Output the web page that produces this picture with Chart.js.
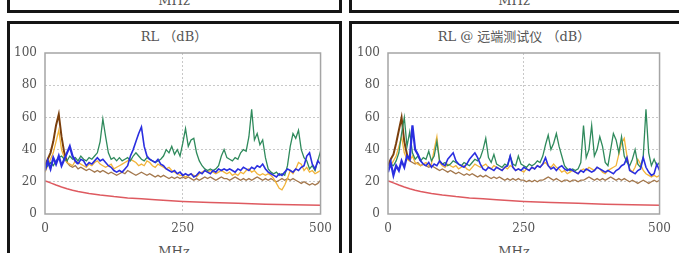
<!DOCTYPE html>
<html>
<head>
<meta charset="utf-8">
<script src="https://cdn.jsdelivr.net/npm/chart.js@4/dist/chart.umd.min.js"></script>
<style>
  body { margin: 0; width: 679px; height: 253px; overflow: hidden; background: #fff; position: relative;
         font-family: "DejaVu Serif", "Noto Sans CJK SC", serif; color: #555; }
  .box { position: absolute; border: 3px solid #151515; box-sizing: border-box; }
  .txt { position: absolute; font-size: 13px; white-space: nowrap; transform: translateX(-50%); line-height: 1; }
  canvas { position: absolute; }
</style>
</head>
<body>
<div class="box" style="left:7px;top:-60px;width:335px;height:73px"></div>
<div class="box" style="left:349px;top:-60px;width:340px;height:73px"></div>
<div class="txt" style="left:174px;top:-6px">MHz</div>
<div class="txt" style="left:514px;top:-6px">MHz</div>

<div class="box" style="left:7px;top:21px;width:335px;height:260px"></div>
<div class="box" style="left:349px;top:21px;width:340px;height:260px"></div>
<div class="txt" style="left:174px;top:30px">RL （dB）</div>
<div class="txt" style="left:514px;top:30px">RL @ 远端测试仪 （dB）</div>
<div class="txt" style="left:174px;top:245px">MHz</div>
<div class="txt" style="left:514px;top:245px">MHz</div>

<canvas id="left" width="332" height="240" style="left:8px;top:22px"></canvas>
<canvas id="right" width="330" height="240" style="left:349px;top:22px"></canvas>

<script>
// frequency points of the measured curves, 0..500 MHz every 5 MHz
const freq = Array.from({length: 101}, (_, i) => i * 5);

// limit line (same on both panels)
const limitFreq = [0, 5, 10, 20, 30, 40, 50, 60, 80, 100, 125, 150, 175, 200, 250, 300, 350, 400, 450, 500];
const limitRL   = [20.5, 20, 19.3, 18, 16.8, 15.7, 14.8, 14, 12.8, 11.8, 10.8, 10, 9.4, 8.8, 7.8, 7.1, 6.6, 6.1, 5.8, 5.5];

// left panel: RL (dB)
const greenL = [28,30,32,30,33,35,36,34,33,36,34,35,33,36,34,33,35,34,36,38,45,59,48,38,34,35,33,35,33,34,
  35,33,36,38,36,34,33,35,34,33,32,33,34,36,40,38,42,37,40,36,44,53,42,46,47,38,33,30,28,27,
  28,27,28,30,36,40,35,34,33,35,34,38,40,39,48,65,46,50,43,46,35,28,26,25,26,24,25,24,30,42,
  50,47,52,40,35,33,28,30,27,33,39];
const blueL = [27,33,28,35,31,36,30,34,38,42,36,33,31,34,33,30,32,31,33,35,33,34,32,30,29,27,26,27,26,28,
  30,36,40,45,50,54,42,36,34,33,32,34,31,30,28,27,26,27,25,26,24,25,24,25,23,24,26,25,27,26,
  25,27,26,28,27,28,27,28,27,26,28,27,29,28,27,29,28,30,29,31,28,26,25,24,23,25,24,26,28,27,
  26,28,27,29,30,36,38,31,28,33,31];
const goldL = [26,30,34,38,45,52,40,35,32,31,30,33,32,31,30,29,31,30,32,33,31,30,29,30,31,28,29,30,31,32,
  33,34,33,32,30,31,30,33,32,30,29,31,30,29,28,29,27,26,25,24,24,23,24,25,24,23,25,26,27,26,
  27,26,25,26,27,26,25,26,24,25,24,26,25,27,28,26,27,25,24,25,24,25,24,22,19,16,15,18,22,27,
  25,28,32,31,27,29,26,27,25,26,27];
const brownL = [30,34,38,45,55,62,48,38,32,30,29,30,28,29,28,27,28,27,26,27,26,27,26,25,26,25,24,25,26,25,
  27,26,25,24,25,26,25,24,25,24,23,24,23,24,23,22,23,22,23,22,23,22,23,22,21,22,21,22,23,22,
  23,22,21,22,23,22,22,21,22,23,22,21,22,21,22,21,22,23,22,21,22,21,22,21,20,21,22,21,22,21,
  22,21,20,19,20,19,18,19,18,19,21];

// right panel: RL @ 远端测试仪 (dB)
const greenR = [28,31,30,33,38,50,60,42,51,38,34,36,33,35,34,39,33,36,45,33,31,32,30,31,33,32,31,30,32,31,
  30,32,34,33,35,40,47,35,32,37,31,30,29,31,30,36,31,30,36,31,30,29,31,30,31,33,32,36,43,49,
  40,44,50,42,36,30,28,27,28,27,28,32,55,35,40,55,36,40,48,42,32,30,40,50,46,38,48,36,32,30,
  34,40,31,29,36,65,38,30,34,30,32];
const blueR = [26,32,24,30,27,33,29,36,34,55,40,37,33,31,30,32,29,31,30,33,31,30,34,36,38,33,31,30,29,31,
  34,36,38,35,31,28,27,29,28,27,29,28,27,29,30,36,29,27,28,27,29,28,27,29,28,30,29,31,35,30,
  28,29,27,29,30,28,27,28,27,26,25,27,26,28,27,26,27,29,28,27,26,27,26,25,27,28,30,31,35,27,
  26,25,27,28,35,29,26,24,25,31,27];
const goldR = [27,30,33,36,42,48,38,34,33,36,32,31,30,31,32,30,31,40,48,32,30,29,31,30,29,30,28,29,30,28,
  27,29,31,30,29,30,31,29,28,30,29,28,27,29,28,30,29,27,28,27,26,28,27,29,28,30,29,31,32,30,
  29,31,29,28,26,27,25,26,27,26,25,27,28,27,29,28,27,29,28,26,25,27,28,29,30,37,44,47,36,28,
  26,29,34,31,27,25,24,23,24,23,24];
const brownR = [30,34,37,44,52,60,45,37,33,32,31,32,30,31,30,29,30,29,28,27,28,27,26,27,26,25,26,25,24,25,
  24,25,24,23,24,23,24,23,22,23,22,23,22,21,22,21,22,21,22,21,21,20,21,20,21,20,21,21,22,23,
  22,21,22,21,20,21,21,20,21,21,20,21,21,22,23,22,21,22,21,22,21,22,23,22,21,22,21,22,21,20,
  21,20,19,20,21,20,19,20,21,20,21];

const xTicks = [0, 250, 500];
const yTicks = [0, 20, 40, 60, 80, 100];

const tickFont = { family: '"DejaVu Serif", serif', size: 12 };

const framePlugin = {
    id: 'frame',
    afterDraw(chart) {
        const { ctx, chartArea: a } = chart;
        ctx.save();
        ctx.strokeStyle = '#a5a5a5';
        ctx.lineWidth = 1.5;
        ctx.strokeRect(a.left, a.top, a.width, a.height);
        ctx.restore();
    }
};

function pts(xs, ys) {
    return xs.map((x, i) => ({ x: x, y: ys[i] }));
}

function line(data, color, width, extra) {
    return Object.assign({
        data: data,
        borderColor: color,
        borderWidth: width,
        pointRadius: 0,
        tension: 0,
        fill: false
    }, extra || {});
}

function makePanel(id, green, blue, gold, brown, yWidth, padRight) {
    // the start of the brown trace is drawn darker and heavier, as in the source
    const brownSeg = {
        segment: {
            borderColor: c => c.p0.parsed.x < 40 ? '#7b3f0c' : '#a3774c',
            borderWidth: c => c.p0.parsed.x < 40 ? 2 : 1.3
        }
    };
    const blueSeg = {
        segment: { borderWidth: c => c.p0.parsed.x < 60 ? 2.2 : 1.6 }
    };
    return new Chart(document.getElementById(id), {
        type: 'line',
        data: {
            datasets: [
                line(pts(freq, blue), '#2a2ee0', 1.6, blueSeg),
                line(pts(freq, green), '#2f8a5c', 1.3),
                line(pts(freq, gold), '#f2b43a', 1.3),
                line(pts(freq, brown), '#a3774c', 1.3, brownSeg),
                line(pts(limitFreq, limitRL), '#de5a60', 1.5)
            ]
        },
        options: {
            responsive: false,
            animation: false,
            events: [],
            layout: { padding: { top: 31, right: padRight, left: 0, bottom: 0 } },
            plugins: { legend: { display: false }, tooltip: { enabled: false }, title: { display: false } },
            scales: {
                x: {
                    type: 'linear', min: 0, max: 500,
                    afterBuildTicks: s => { s.ticks = xTicks.map(v => ({ value: v })); },
                    afterFit: s => { s.height = 48; },
                    border: { display: false, dash: [2, 2] },
                    grid: {
                        drawTicks: false,
                        color: c => (c.tick && c.tick.value === 250) ? '#c8c8c8' : 'rgba(0,0,0,0)',
                        lineWidth: 1
                    },
                    ticks: { color: '#555', font: tickFont, padding: 8, maxRotation: 0 }
                },
                y: {
                    min: 0, max: 100,
                    afterBuildTicks: s => { s.ticks = yTicks.map(v => ({ value: v })); },
                    afterFit: s => { s.width = yWidth; },
                    border: { display: false, dash: [2, 2] },
                    grid: {
                        drawTicks: false,
                        color: c => (c.tick && c.tick.value > 0 && c.tick.value < 100) ? '#c8c8c8' : 'rgba(0,0,0,0)',
                        lineWidth: 1
                    },
                    ticks: { color: '#555', font: tickFont, padding: 8 }
                }
            }
        },
        plugins: [framePlugin]
    });
}

makePanel('left', greenL, blueL, goldL, brownL, 37, 18);
makePanel('right', greenR, blueR, goldR, brownR, 39, 16);
</script>
</body>
</html>
